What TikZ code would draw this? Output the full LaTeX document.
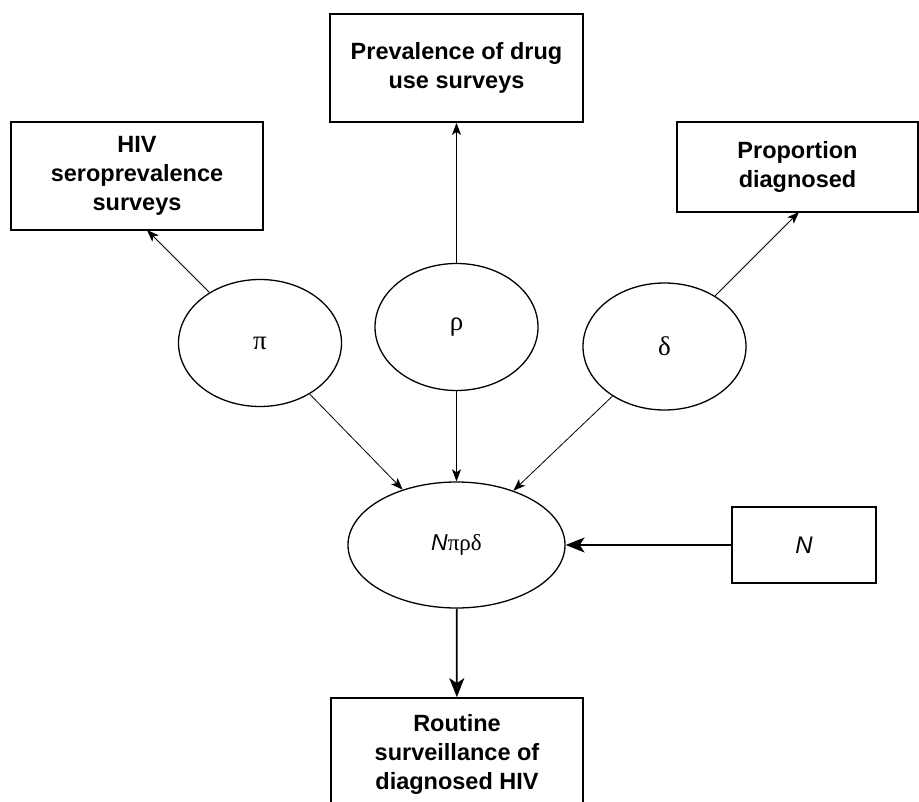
\documentclass[tikz,border=0pt]{standalone}
\usepackage{fontspec}
\setmainfont{Liberation Sans}
\newfontfamily\grk{Liberation Serif}
\usetikzlibrary{arrows.meta,shapes.geometric}
\begin{document}
\begin{tikzpicture}[x=1pt,y=-1pt,
	survey/.style={draw,line width=1.8pt,align=center,inner sep=0pt,
		font=\fontsize{23.5}{29}\selectfont\bfseries},
	param/.style={draw,ellipse,line width=1.3pt,inner sep=0pt,
		minimum width=163pt,minimum height=127pt,
		font=\fontsize{27}{30}\selectfont\grk},
	link/.style={-{Stealth[length=12pt,width=9pt,inset=3pt]},line width=0.8pt},
	mainlink/.style={-{Stealth[length=19pt,width=15pt,inset=5pt]},line width=1.8pt}]
\useasboundingbox (0,0) rectangle (919,802);
\node[survey,minimum width=253pt,minimum height=108pt] (drug) at (456.5,68)
	{Prevalence of drug\\use surveys};
\node[survey,minimum width=252pt,minimum height=108pt] (hiv) at (137,176)
	{HIV\\seroprevalence\\surveys};
\node[survey,minimum width=241pt,minimum height=90pt] (diag) at (797.5,167)
	{Proportion\\diagnosed};
\node[param] (pi) at (260,343) {π};
\node[param] (rho) at (456.5,327) {ρ};
\node[param] (delta) at (664.5,346.5) {δ};
\node[param,minimum width=217pt,minimum height=126pt,
	font=\fontsize{23}{26}\selectfont] (prod) at (456.5,545)
	{\textit{N}{\grk πρδ}};
\node[survey,minimum width=144pt,minimum height=76pt,font=\fontsize{24}{29}\selectfont\itshape]
	(size) at (804,545) {N};
\node[survey,minimum width=252pt,minimum height=112pt] (routine) at (457,754)
	{Routine\\surveillance of\\diagnosed HIV};
\coordinate (hivin) at (147,230);
\coordinate (diagin) at (799,212);
\draw[link] (pi.135) -- (hivin);
\draw[link] (rho) -- (drug);
\draw[link] (delta.45) -- (diagin);
\draw[link] (pi) -- (prod);
\draw[link] (rho) -- (prod);
\draw[link] (delta) -- (prod);
\draw[mainlink] (size) -- (prod);
\draw[mainlink] (prod) -- (routine);
\end{tikzpicture}
\end{document}
